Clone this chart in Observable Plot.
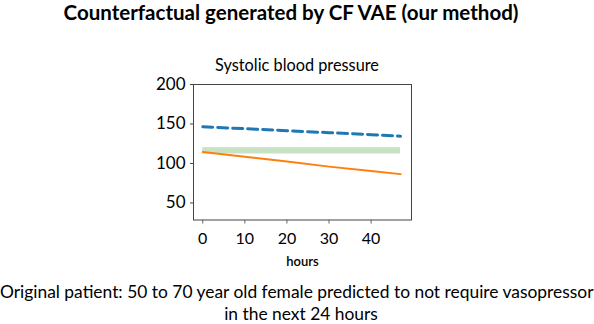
<!DOCTYPE html>
<html><head><meta charset="utf-8">
<script src="https://cdn.jsdelivr.net/npm/d3@7"></script>
<script src="https://cdn.jsdelivr.net/npm/@observablehq/plot@0.6"></script>
<style>
body{margin:0;background:#fff;width:594px;height:324px;position:relative;overflow:hidden;font-family:Lato,sans-serif;color:#000}
#title{position:absolute;top:0;left:0;width:582px;text-align:center;font-weight:bold;font-size:20.5px;line-height:24px;white-space:nowrap}
#sub{position:absolute;top:55px;left:0;width:594px;text-align:center;font-size:16.3px;line-height:20px}
#chart{position:absolute;top:60px;left:0}
.cap{position:absolute;left:0;width:594px;text-align:center;font-size:17.4px;line-height:22px;white-space:nowrap}
#cap1{top:281px;left:0;width:592px}
#cap2{top:303px;left:4px;width:594px}
</style></head><body>
<div id="title">Counterfactual generated by CF VAE (our method)</div>
<div id="sub">Systolic blood pressure</div>
<div id="chart"></div>
<div class="cap" id="cap1">Original patient: 50 to 70 year old female predicted to not require vasopressor</div>
<div class="cap" id="cap2">in the next 24 hours</div>
<script>
const hours = [0, 10, 20, 30, 40, 47];
const counterfactual = [146.5, 144, 141.5, 139, 136.5, 134.5];
const original = [114.5, 108.5, 102.5, 96, 90.5, 86.5];
const bandStart = [0], bandEnd = [47], bandLow = [112], bandHigh = [120];
const xTicks = [0, 10, 20, 30, 40];
const yTicks = [50, 100, 150, 200];

const band = bandStart.map((s, i) => ({x1: s, x2: bandEnd[i], y1: bandLow[i], y2: bandHigh[i]}));
const cf = hours.map((h, i) => ({h, v: counterfactual[i]}));
const og = hours.map((h, i) => ({h, v: original[i]}));

const chart = Plot.plot({
  width: 594, height: 212,
  marginLeft: 193, marginRight: 183, marginTop: 24, marginBottom: 52.5,
  style: {fontFamily: "Lato, sans-serif", fontSize: "16px", color: "#000", background: "transparent"},
  x: {domain: [-2.2, 49.6], label: null},
  y: {domain: [28.4, 200], label: null},
  marks: [
    Plot.rect(band, {x1: "x1", x2: "x2", y1: "y1", y2: "y2", fill: "#c8e3c3"}),
    Plot.line(cf, {x: "h", y: "v", stroke: "#1f77b4", strokeWidth: 3, strokeDasharray: "10,5"}),
    Plot.line(og, {x: "h", y: "v", stroke: "#ff7f0e", strokeWidth: 2}),
    Plot.frame({stroke: "#444", strokeWidth: 1}),
    Plot.axisX({ticks: xTicks, tickSize: 4, tickPadding: 9, fontSize: 16, stroke: "#666", label: null}),
    Plot.axisY({ticks: yTicks, tickSize: 3, tickPadding: 5, fontSize: 17, stroke: "#444", label: null}),
    Plot.text(["hours"], {frameAnchor: "bottom", dy: 46, fontSize: 13, fontWeight: 600})
  ]
});
document.getElementById("chart").appendChild(chart);
</script>
</body></html>
